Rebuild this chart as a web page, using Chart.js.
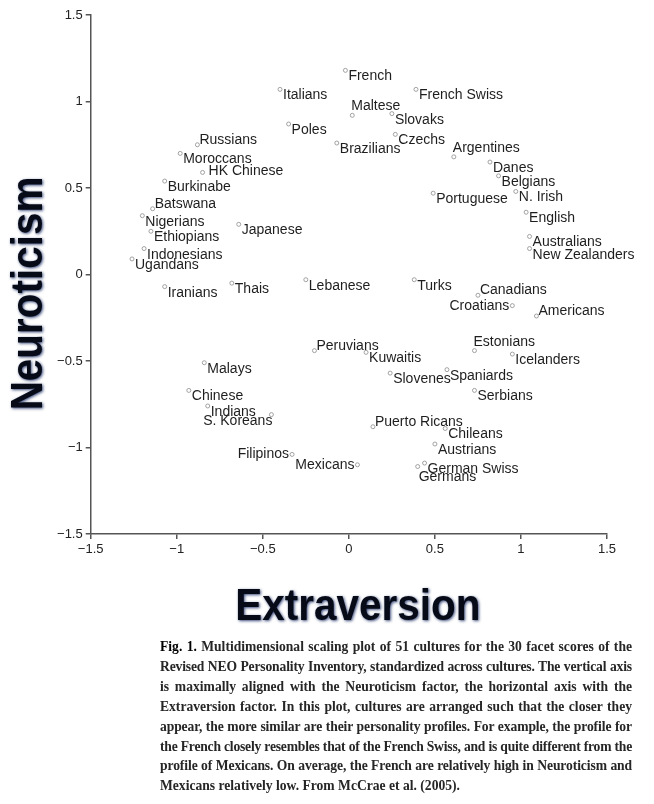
<!DOCTYPE html>
<html>
<head>
<meta charset="utf-8">
<script src="https://cdn.jsdelivr.net/npm/chart.js@4/dist/chart.umd.min.js"></script>
<style>
body { margin: 0; background: #fff; }
#wrap { position: relative; width: 654px; height: 804px; }
#chart { position: absolute; left: 0; top: 0; }
#caption { position: absolute; left: 160px; top: 637px; width: 472px; font-family: "Liberation Serif", "DejaVu Serif", serif; font-weight: bold; font-size: 13.6px; line-height: 19.9px; color: #262626; }
#caption div { text-align: justify; text-align-last: justify; }
#caption div.last { text-align-last: left; }
#caption b { color: #000; }
</style>
</head>
<body>
<div id="wrap">
  <canvas id="chart" width="654" height="640"></canvas>
  <div id="caption">
    <div><b>Fig. 1.</b> Multidimensional scaling plot of 51 cultures for the 30 facet scores of the</div>
    <div>Revised NEO Personality Inventory, standardized across cultures. The vertical axis</div>
    <div>is maximally aligned with the Neuroticism factor, the horizontal axis with the</div>
    <div>Extraversion factor. In this plot, cultures are arranged such that the closer they</div>
    <div>appear, the more similar are their personality profiles. For example, the profile for</div>
    <div>the French closely resembles that of the French Swiss, and is quite different from the</div>
    <div>profile of Mexicans. On average, the French are relatively high in Neuroticism and</div>
    <div class="last">Mexicans relatively low. From McCrae et al. (2005).</div>
  </div>
</div>
<script>
const cultures = [
  'French', 'Italians', 'Maltese', 'Poles', 'Brazilians', 'Russians', 'Moroccans', 'HK Chinese',
  'Burkinabe', 'Batswana', 'Nigerians', 'Japanese', 'Ethiopians', 'Indonesians', 'Ugandans',
  'French Swiss', 'Slovaks', 'Czechs', 'Argentines', 'Danes', 'Belgians', 'Portuguese', 'N. Irish',
  'English', 'Australians', 'New Zealanders', 'Turks', 'Canadians', 'Croatians', 'Americans',
  'Iranians', 'Thais', 'Lebanese', 'Peruvians', 'Malays', 'Chinese', 'Indians', 'S. Koreans',
  'Filipinos', 'Mexicans', 'Kuwaitis', 'Estonians', 'Icelanders', 'Slovenes', 'Spaniards',
  'Serbians', 'Puerto Ricans', 'Chileans', 'Austrians', 'German Swiss', 'Germans'
];
const extraversion = [
  -0.02, -0.40, 0.02, -0.35, -0.07, -0.88, -0.98, -0.85,
  -1.07, -1.14, -1.20, -0.64, -1.15, -1.19, -1.26,
  0.39, 0.25, 0.27, 0.61, 0.82, 0.87, 0.49, 0.97,
  1.03, 1.05, 1.05, 0.38, 0.75, 0.95, 1.09,
  -1.07, -0.68, -0.25, -0.20, -0.84, -0.93, -0.82, -0.45,
  -0.33, 0.05, 0.10, 0.73, 0.95, 0.24, 0.57,
  0.73, 0.14, 0.56, 0.50, 0.44, 0.40
];
const neuroticism = [
  1.18, 1.07, 0.92, 0.87, 0.76, 0.75, 0.70, 0.59,
  0.54, 0.38, 0.34, 0.29, 0.25, 0.15, 0.09,
  1.07, 0.93, 0.81, 0.68, 0.65, 0.57, 0.47, 0.48,
  0.36, 0.22, 0.15, -0.03, -0.12, -0.18, -0.24,
  -0.07, -0.05, -0.03, -0.44, -0.51, -0.67, -0.76, -0.81,
  -1.04, -1.10, -0.45, -0.44, -0.46, -0.57, -0.55,
  -0.67, -0.88, -0.89, -0.98, -1.09, -1.11
];
const axisTicks = [-1.5, -1, -0.5, 0, 0.5, 1, 1.5];

// where each label sits relative to its point (default: right)
const labelSide = {
  'Russians': 'ur', 'Batswana': 'ur', 'Peruvians': 'ur', 'Puerto Ricans': 'ur',
  'Canadians': 'ur', 'Americans': 'ur',
  'Maltese': 'a', 'Argentines': 'a', 'Estonians': 'a',
  'Croatians': 'l', 'Filipinos': 'l', 'Mexicans': 'l',
  'S. Koreans': 'lb', 'Germans': 'b', 'HK Chinese': 'm'
};

const fmt = v => (v < 0 ? '\u2212' + Math.abs(v) : String(v));

const pointLabels = {
  id: 'pointLabels',
  afterDatasetsDraw(chart) {
    const ctx = chart.ctx;
    const pts = chart.getDatasetMeta(0).data;
    ctx.save();
    ctx.font = '14px "Liberation Sans", Arial, sans-serif';
    ctx.fillStyle = '#1e1e1e';
    ctx.textBaseline = 'alphabetic';
    pts.forEach((p, i) => {
      const side = labelSide[cultures[i]] || 'r';
      let x = p.x + 3, y = p.y + 10, align = 'left';
      if (side === 'ur') { x = p.x + 2; y = p.y - 1; }
      else if (side === 'a') { x = p.x - 1; y = p.y - 5; }
      else if (side === 'l') { x = p.x - 3; y = p.y + 4; align = 'right'; }
      else if (side === 'lb') { x = p.x + 1; y = p.y + 10; align = 'right'; }
      else if (side === 'b') { x = p.x + 1; y = p.y + 14; }
      else if (side === 'm') { x = p.x + 6; y = p.y + 3; }
      ctx.textAlign = align;
      ctx.fillText(cultures[i], x, y);
    });
    ctx.restore();
  }
};

const axisTitles = {
  id: 'axisTitles',
  afterDraw(chart) {
    const ctx = chart.ctx;
    const a = chart.chartArea;
    ctx.save();
    ctx.font = 'bold 45px "Liberation Sans", Arial, sans-serif';
    // the titles are set in a condensed face: squeeze to the printed width
    const sx = 245 / ctx.measureText('Extraversion').width;
    ctx.fillStyle = '#070b18';
    ctx.shadowColor = 'rgba(25,45,100,0.85)';
    ctx.shadowBlur = 3;
    ctx.shadowOffsetX = 1;
    ctx.shadowOffsetY = 1;
    ctx.textAlign = 'center';
    ctx.textBaseline = 'alphabetic';

    ctx.save();
    ctx.translate((a.left + a.right) / 2 + 9, a.bottom + 86);
    ctx.scale(sx, 1);
    ctx.fillText('Extraversion', 0, 0);
    ctx.restore();

    ctx.translate(a.left - 49, (a.top + a.bottom) / 2 + 19);
    ctx.rotate(-Math.PI / 2);
    ctx.scale(sx, 1);
    ctx.fillText('Neuroticism', 0, 0);
    ctx.restore();
  }
};

const axisStyle = {
  min: -1.5,
  max: 1.5,
  afterBuildTicks: s => { s.ticks = axisTicks.map(v => ({ value: v })); },
  border: { display: true, color: '#555', width: 1.5 },
  grid: { display: true, drawOnChartArea: false, drawTicks: true, tickLength: 5, color: '#555', lineWidth: 1.5 },
  ticks: {
    color: '#222',
    font: { family: '"Liberation Sans", Arial, sans-serif', size: 13 },
    padding: 3,
    maxRotation: 0,
    callback: v => fmt(v)
  }
};

new Chart(document.getElementById('chart'), {
  type: 'scatter',
  data: {
    datasets: [{
      data: cultures.map((c, i) => ({ x: extraversion[i], y: neuroticism[i] })),
      pointRadius: 2,
      pointBorderWidth: 0.8,
      pointBorderColor: '#8c8c8c',
      pointBackgroundColor: '#ffffff',
      clip: false
    }]
  },
  options: {
    responsive: false,
    animation: false,
    devicePixelRatio: 1,
    layout: { padding: { top: 15, right: 47, bottom: 80, left: 0 } },
    plugins: { legend: { display: false }, tooltip: { enabled: false } },
    scales: {
      x: { type: 'linear', position: 'bottom', ...axisStyle, afterFit: s => { s.height = 26; } },
      y: { type: 'linear', position: 'left', ...axisStyle, afterFit: s => { s.width = 90.7; } }
    }
  },
  plugins: [pointLabels, axisTitles]
});

// squeeze caption lines that would otherwise wrap
document.querySelectorAll('#caption div').forEach(d => {
  let ls = 0;
  while (d.offsetHeight > 25 && ls > -1.5) {
    ls -= 0.05;
    d.style.letterSpacing = ls + 'px';
  }
});
</script>
</body>
</html>
